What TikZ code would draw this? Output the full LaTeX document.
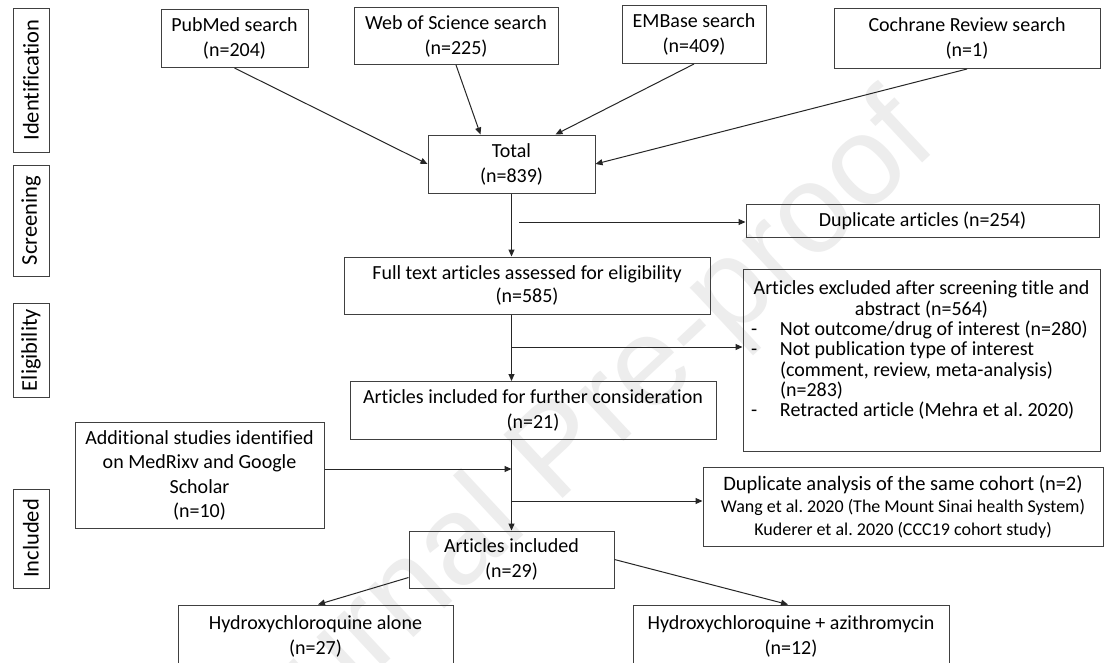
\documentclass[tikz,border=0pt]{standalone}
\usepackage{fontspec}
\setmainfont{Carlito}[Ligatures={NoCommon}]
\newfontfamily\wmfont{Liberation Sans}
\usetikzlibrary{arrows.meta}
\begin{document}
\begin{tikzpicture}[x=1pt,y=-1pt,
  box/.style={draw=black!75, line width=1pt, inner sep=0pt, align=center,
    font=\fontsize{20}{25}\selectfont},
  lab/.style={draw=black!75, line width=1pt, inner sep=0pt, rotate=90,
    minimum height=36pt, font=\fontsize{22.5}{26}\selectfont},
  arr/.style={draw=black!85, line width=1pt, -{Triangle[length=7pt,width=6pt]}}]
\fill[white] (0,0) rectangle (1107,662);
\useasboundingbox (0,0) rectangle (1107,662);
\clip (0,0) rectangle (1107,662);
% watermark
\node[rotate=43, text=black!7, font=\wmfont\fontsize{126}{126}\selectfont] (wm) at (562,455) {Journal Pre-proof};
% stage labels
\node[lab, minimum width=144pt] (idlab) at (31,80) {Identification};
\node[lab, minimum width=111pt] (scrlab) at (31,220.5) {Screening};
\node[lab, minimum width=94pt] (elilab) at (31,350) {Eligibility};
\node[lab, minimum width=99pt] (inclab) at (31,538.5) {Included};
% boxes
\node[box, minimum width=147pt, minimum height=58pt] (pub) at (234.5,38.5) {PubMed search\\(n=204)};
\node[box, minimum width=204pt, minimum height=57pt] (wos) at (456,36) {Web of Science search\\(n=225)};
\node[box, minimum width=144pt, minimum height=58pt] (emb) at (694,34.5) {EMBase search\\(n=409)};
\node[box, minimum width=266pt, minimum height=60pt] (coch) at (967,38.5) {Cochrane Review search\\(n=1)};
\node[box, minimum width=167pt, minimum height=58pt] (total) at (511.5,164) {Total\\(n=839)};
\node[box, minimum width=353pt, minimum height=33pt] (dup) at (922.5,221) {Duplicate articles (n=254)};
\node[box, minimum width=366pt, minimum height=57pt, font=\fontsize{20}{23}\selectfont] (full) at (527,285.5) {Full text articles assessed for eligibility\\(n=585)};
\node[draw=black!75, line width=1pt, inner sep=0pt, minimum width=357pt, minimum height=182pt,
  font=\fontsize{20}{20.3}\selectfont] (excl) at (921.5,360) {%
  \begin{minipage}[c][182pt][t]{345pt}\vspace*{12pt}%
  \centering Articles excluded after screening title and\\abstract (n=564)\par
  \raggedright
  {\leftskip=31pt\hspace*{-29pt}\makebox[29pt][l]{-}Not outcome/drug of interest (n=280)\par}
  {\leftskip=31pt\hspace*{-29pt}\makebox[29pt][l]{-}Not publication type of interest\\(comment, review, meta-analysis)\\(n=283)\par}
  {\leftskip=31pt\hspace*{-29pt}\makebox[29pt][l]{-}Retracted article (Mehra et al.\ 2020)\par}
  \end{minipage}};
\node[box, minimum width=366pt, minimum height=58pt] (further) at (533,410.5) {Articles included for further consideration\\(n=21)};
\node[box, minimum width=249pt, minimum height=106pt, font=\fontsize{20}{24.3}\selectfont] (add) at (199.5,475.5) {Additional studies identified\\on MedRixv and Google\\Scholar\\(n=10)};
\node[box, minimum width=400pt, minimum height=79pt, font=\fontsize{20.5}{22.5}\selectfont] (dupan) at (903,506.5) {Duplicate analysis of the same cohort (n=2)\\{\fontsize{18}{22}\selectfont Wang et al.\ 2020 (The Mount Sinai health System)}\\{\fontsize{18}{22}\selectfont Kuderer et al.\ 2020 (CCC19 cohort study)}};
\node[box, minimum width=205pt, minimum height=57pt] (incl) at (511.5,559.5) {Articles included\\(n=29)};
\node[box, minimum width=275pt, minimum height=62pt] (hcq) at (315.5,636) {Hydroxychloroquine alone\\(n=27)};
\node[box, minimum width=316pt, minimum height=62pt] (hcqaz) at (791,636) {Hydroxychloroquine + azithromycin\\(n=12)};
% connectors
\draw[arr] (pub.south) -- (total.west);
\draw[arr] (wos.south) -- ([xshift=53pt]total.north west);
\draw[arr] (emb.south) -- ([xshift=128pt]total.north west);
\draw[arr] (coch.south) -- (total.east);
\draw[arr] (total.south) -- (total.south |- full.north);
\coordinate (b1) at (519,222);
\draw[arr] (b1) -- (b1 -| dup.west);
\draw[arr] (total.south |- full.south) -- (total.south |- further.north);
\coordinate (b2) at (511.5,347);
\draw[arr] (b2) -- (b2 -| excl.west);
\draw[arr] (total.south |- further.south) -- (incl.north);
\coordinate (b3) at (511.5,469);
\draw[arr] (b3 -| add.east) -- (b3);
\coordinate (b4) at (511.5,501);
\draw[arr] (b4) -- (b4 -| dupan.west);
\draw[arr] ([yshift=11pt]incl.south west) -- ([xshift=2.5pt]hcq.north);
\draw[arr] (incl.east) -- ([xshift=-3pt]hcqaz.north);
\end{tikzpicture}
\end{document}
